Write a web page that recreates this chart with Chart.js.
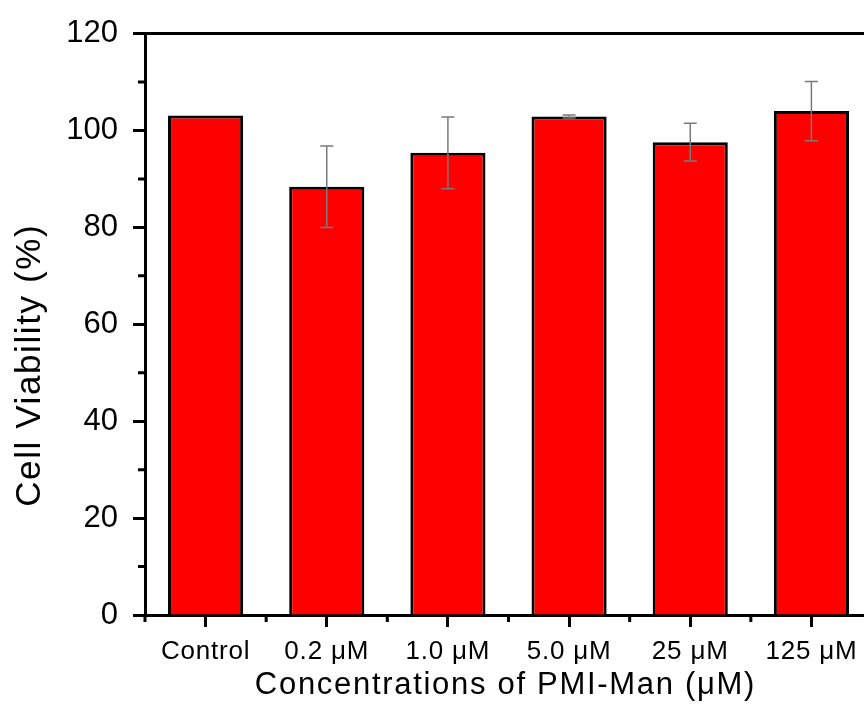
<!DOCTYPE html>
<html>
<head>
<meta charset="utf-8">
<script src="https://cdn.jsdelivr.net/npm/chart.js@4/dist/chart.umd.min.js"></script>
<style>
  html, body { margin: 0; padding: 0; background: #fff; overflow: hidden; }
</style>
</head>
<body>
<canvas id="chart" width="880" height="709"></canvas>
<script>
// concentrations tested and mean viability with its error
var concentrations = ['Control', '0.2 \u03BCM', '1.0 \u03BCM', '5.0 \u03BCM', '25 \u03BCM', '125 \u03BCM'];
var viability = [103.1, 88.4, 95.4, 102.9, 97.6, 104.0];
var viabilityErr = [0, 8.4, 7.4, 0.3, 3.9, 6.1];
var yTicks = [0, 20, 40, 60, 80, 100, 120];

Chart.defaults.font.family = "'Liberation Sans', Arial, sans-serif";
Chart.defaults.color = '#000';

// wrap a scale draw method so its text gets some letter spacing (and an optional shift)
function spaced(scale, name, spacing, dx, dy) {
    if (scale['_orig_' + name]) return;
    var orig = scale[name];
    scale['_orig_' + name] = orig;
    scale[name] = function() {
        var ctx = this.ctx;
        ctx.save();
        ctx.letterSpacing = spacing + 'px';
        ctx.translate(dx || 0, dy || 0);
        orig.apply(this, arguments);
        ctx.restore();
    };
}

// error bars, minor ticks and the top frame line
var extras = {
    id: 'extras',
    afterDatasetsDraw: function(chart) {
        var ctx = chart.ctx;
        var xs = chart.scales.x, ys = chart.scales.y;
        ctx.save();
        ctx.strokeStyle = '#7a7a7a';
        ctx.lineWidth = 1.5;
        viability.forEach(function(v, i) {
            var e = viabilityErr[i];
            if (!e) return;
            var x = xs.getPixelForValue(i);
            var top = ys.getPixelForValue(v + e);
            var bot = ys.getPixelForValue(v - e);
            ctx.beginPath();
            ctx.moveTo(x, top); ctx.lineTo(x, bot);
            ctx.moveTo(x - 6.5, top); ctx.lineTo(x + 6.5, top);
            ctx.moveTo(x - 6.5, bot); ctx.lineTo(x + 6.5, bot);
            ctx.stroke();
        });
        ctx.restore();
    },
    afterDraw: function(chart) {
        var ctx = chart.ctx;
        var area = chart.chartArea;
        var xs = chart.scales.x, ys = chart.scales.y;
        ctx.save();
        ctx.strokeStyle = '#000';
        ctx.lineWidth = 3;
        ctx.beginPath();
        // top frame
        ctx.moveTo(area.left - 1.5, area.top);
        ctx.lineTo(chart.width, area.top);
        // minor y ticks
        for (var k = 0; k < yTicks.length - 1; k++) {
            var y = ys.getPixelForValue((yTicks[k] + yTicks[k + 1]) / 2);
            ctx.moveTo(area.left - 7, y);
            ctx.lineTo(area.left, y);
        }
        // minor x ticks between categories
        for (var i = 0; i <= concentrations.length; i++) {
            var x = xs.getPixelForValue(i - 0.5);
            ctx.moveTo(x, area.bottom);
            ctx.lineTo(x, area.bottom + 7);
        }
        ctx.stroke();
        ctx.restore();
    }
};

new Chart(document.getElementById('chart'), {
    type: 'bar',
    data: {
        labels: concentrations,
        datasets: [{
            data: viability,
            backgroundColor: '#ff0000',
            borderColor: '#000',
            borderWidth: 3,
            barPercentage: 0.62,
            categoryPercentage: 1.0
        }]
    },
    options: {
        responsive: false,
        animation: false,
        layout: { padding: { top: 29, right: 8, bottom: 0, left: 0 } },
        plugins: { legend: { display: false }, tooltip: { enabled: false } },
        scales: {
            x: {
                offset: true,
                grid: { offset: false, drawOnChartArea: false, drawTicks: true, tickLength: 12, tickWidth: 3, tickColor: '#000' },
                border: { color: '#000', width: 3 },
                ticks: { font: { size: 26 }, padding: 9, maxRotation: 0, autoSkip: false },
                title: {
                    display: true,
                    text: 'Concentrations of PMI-Man (\u03BCM)',
                    font: { size: 31 },
                    padding: { top: 0, bottom: 5 }
                },
                afterFit: function(scale) { scale.height = 94; },
                afterUpdate: function(scale) {
                    spaced(scale, 'drawLabels', 0.8);
                    spaced(scale, 'drawTitle', 1.7, -3, 0);
                }
            },
            y: {
                min: 0,
                max: 120,
                afterBuildTicks: function(scale) {
                    scale.ticks = yTicks.map(function(v) { return { value: v }; });
                },
                grid: { drawOnChartArea: false, drawTicks: true, tickLength: 12, tickWidth: 3, tickColor: '#000' },
                border: { color: '#000', width: 3 },
                ticks: { font: { size: 31 }, padding: 15 },
                title: {
                    display: true,
                    text: 'Cell Viability (%)',
                    font: { size: 35 },
                    padding: { top: 9, bottom: 0 }
                },
                afterFit: function(scale) { scale.width = 145; },
                afterUpdate: function(scale) {
                    spaced(scale, 'drawTitle', 1.6, 0, 41);
                }
            }
        }
    },
    plugins: [extras]
});
</script>
</body>
</html>
